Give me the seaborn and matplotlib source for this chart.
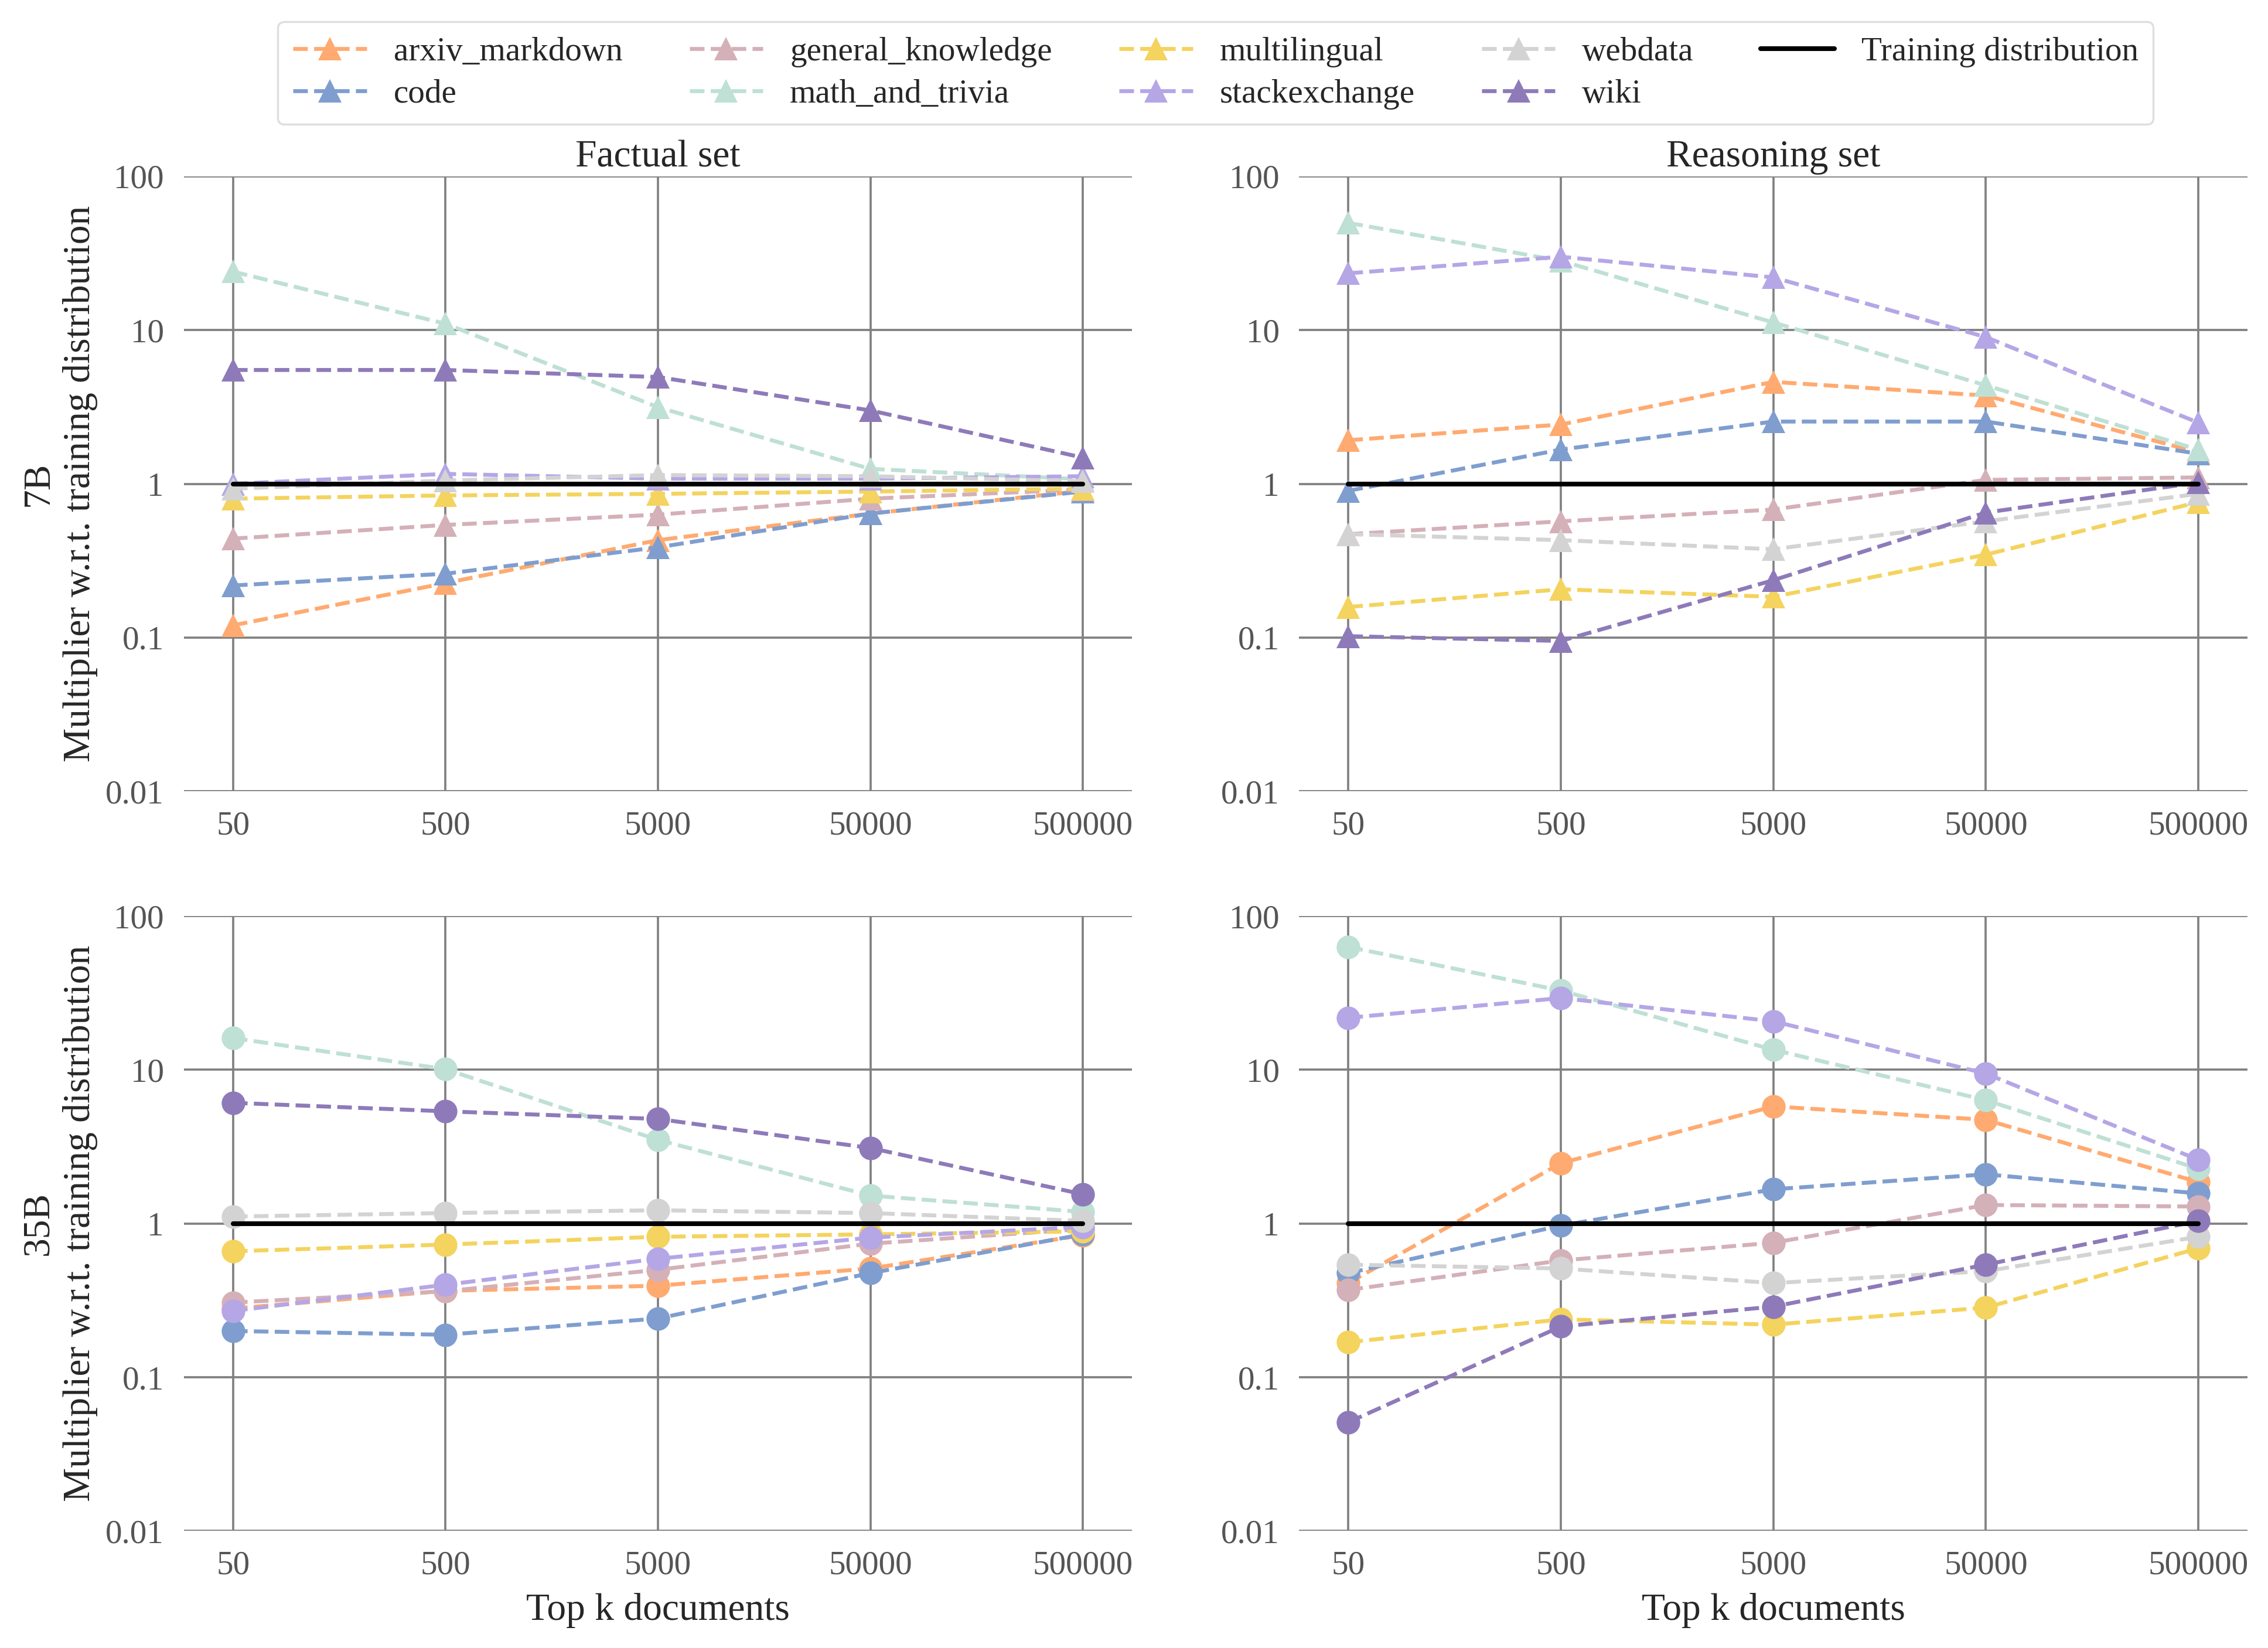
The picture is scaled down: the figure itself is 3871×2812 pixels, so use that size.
import numpy as np
import pandas as pd
import matplotlib
matplotlib.use("Agg")
import matplotlib.pyplot as plt
import seaborn as sns
from matplotlib.ticker import FixedLocator, NullLocator

# x values (top k documents)
TOP_K = [50, 500, 5000, 50000, 500000]
DOMAINS = ["arxiv_markdown", "code", "general_knowledge", "math_and_trivia",
           "multilingual", "stackexchange", "webdata", "wiki"]
COLORS = {
    "arxiv_markdown": "#FFAA70",
    "code": "#7F9ECF",
    "general_knowledge": "#D4B0B8",
    "math_and_trivia": "#BFE0D4",
    "multilingual": "#F4D35E",
    "stackexchange": "#B5A6E6",
    "webdata": "#D3D3D3",
    "wiki": "#8E7AB9",
}

# 7B, factual set
f7_arxiv = [0.12, 0.226, 0.43, 0.64, 0.90]
f7_code = [0.218, 0.26, 0.386, 0.64, 0.89]
f7_general = [0.44, 0.54, 0.63, 0.80, 0.92]
f7_math = [24.0, 11.0, 3.15, 1.25, 1.07]
f7_multi = [0.80, 0.84, 0.86, 0.89, 0.93]
f7_stack = [1.0, 1.16, 1.08, 1.08, 1.12]
f7_web = [0.93, 1.05, 1.14, 1.12, 1.04]
f7_wiki = [5.5, 5.5, 4.95, 3.0, 1.48]

# 7B, reasoning set
r7_arxiv = [1.92, 2.43, 4.6, 3.75, 1.6]
r7_code = [0.90, 1.67, 2.54, 2.54, 1.57]
r7_general = [0.47, 0.57, 0.68, 1.06, 1.10]
r7_math = [49.8, 28.2, 11.2, 4.37, 1.67]
r7_multi = [0.158, 0.206, 0.184, 0.346, 0.76]
r7_stack = [23.4, 30.0, 22.0, 9.0, 2.5]
r7_web = [0.47, 0.43, 0.375, 0.57, 0.86]
r7_wiki = [0.102, 0.095, 0.236, 0.65, 1.02]

# 35B, factual set
f35_arxiv = [0.28, 0.365, 0.394, 0.51, 0.84]
f35_code = [0.20, 0.189, 0.241, 0.476, 0.85]
f35_general = [0.306, 0.363, 0.50, 0.74, 0.92]
f35_math = [16.1, 10.1, 3.5, 1.52, 1.19]
f35_multi = [0.66, 0.73, 0.82, 0.85, 0.89]
f35_stack = [0.27, 0.40, 0.59, 0.81, 0.95]
f35_web = [1.11, 1.17, 1.22, 1.17, 1.04]
f35_wiki = [6.1, 5.37, 4.79, 3.1, 1.55]

# 35B, reasoning set
r35_arxiv = [0.41, 2.47, 5.78, 4.73, 1.86]
r35_code = [0.476, 0.97, 1.67, 2.09, 1.57]
r35_general = [0.37, 0.575, 0.75, 1.32, 1.29]
r35_math = [63.0, 32.8, 13.5, 6.35, 2.27]
r35_multi = [0.169, 0.238, 0.22, 0.284, 0.69]
r35_stack = [21.8, 29.3, 20.7, 9.45, 2.6]
r35_web = [0.54, 0.51, 0.41, 0.49, 0.82]
r35_wiki = [0.051, 0.214, 0.288, 0.54, 1.04]

TRAINING = [1, 1, 1, 1, 1]

PANELS = [
    ("7B", "Factual set", "^", [f7_arxiv, f7_code, f7_general, f7_math, f7_multi, f7_stack, f7_web, f7_wiki]),
    ("7B", "Reasoning set", "^", [r7_arxiv, r7_code, r7_general, r7_math, r7_multi, r7_stack, r7_web, r7_wiki]),
    ("35B", "Factual set", "o", [f35_arxiv, f35_code, f35_general, f35_math, f35_multi, f35_stack, f35_web, f35_wiki]),
    ("35B", "Reasoning set", "o", [r35_arxiv, r35_code, r35_general, r35_math, r35_multi, r35_stack, r35_web, r35_wiki]),
]

sns.set_style("white", {"axes.grid": True, "grid.color": "#808080"})
plt.rcParams["font.family"] = ["Liberation Serif", "DejaVu Serif"]
plt.rcParams["grid.linewidth"] = 1.1

fig, axes = plt.subplots(2, 2, figsize=(3871 / 242, 2812 / 242), dpi=242)
fig.subplots_adjust(left=0.081, right=0.991, top=0.893, bottom=0.071, wspace=0.176, hspace=0.203)

for i, (model, title, marker, series) in enumerate(PANELS):
    ax = axes.flat[i]
    rows = []
    for dom, vals in zip(DOMAINS, series):
        for k, v in zip(TOP_K, vals):
            rows.append({"k": k, "value": v, "domain": dom})
    df = pd.DataFrame(rows)
    sns.lineplot(data=df, x="k", y="value", hue="domain", hue_order=DOMAINS,
                 palette=COLORS, marker=marker, markersize=12, markeredgewidth=0,
                 linestyle="--", linewidth=2, ax=ax, legend=False)
    sns.lineplot(x=TOP_K, y=TRAINING, color="black", linewidth=2.4, ax=ax,
                 label="Training distribution", legend=False)
    ax.set_xscale("log")
    ax.set_yscale("log")
    ax.set_ylim(0.01, 100)
    ax.margins(x=0.058)
    ax.xaxis.set_major_locator(FixedLocator(TOP_K))
    ax.xaxis.set_minor_locator(NullLocator())
    ax.set_xticks(TOP_K)
    ax.set_xticklabels([str(k) for k in TOP_K])
    yt = [0.01, 0.1, 1, 10, 100]
    ax.set_yticks(yt)
    ax.set_yticklabels(["0.01", "0.1", "1", "10", "100"])
    ax.yaxis.set_minor_locator(NullLocator())
    ax.tick_params(axis="both", labelsize=17, colors="#555555", length=0, pad=10)
    sns.despine(ax=ax, left=True, bottom=True)
    ax.set_axisbelow(True)
    if i < 2:
        ax.set_title(title, fontsize=19.5, color="#262626", pad=5)
        ax.set_xlabel("")
    else:
        ax.set_xlabel("Top k documents", fontsize=19.5, color="#262626", labelpad=6)
    if i % 2 == 0:
        ax.set_ylabel(model + "\nMultiplier w.r.t. training distribution", fontsize=19.5,
                      color="#262626", linespacing=1.25)
    else:
        ax.set_ylabel("")

# legend
handles = []
labels = []
for dom in DOMAINS:
    h, = axes[0, 0].plot([], [], color=COLORS[dom], marker="^", markersize=12,
                          markeredgewidth=0, linestyle="--", linewidth=2)
    handles.append(h)
    labels.append(dom)
h, = axes[0, 0].plot([], [], color="black", linewidth=2.4)
handles.append(h)
labels.append("Training distribution")

fig.legend(handles, labels, loc="upper center", bbox_to_anchor=(0.536, 0.997), ncol=5,
           fontsize=17, frameon=True, fancybox=True, edgecolor="#d6d6d6",
           columnspacing=2.0, handlelength=2.2, labelcolor="#262626",
           borderpad=0.45, labelspacing=0.35)

fig.savefig("out.png", dpi=242)
